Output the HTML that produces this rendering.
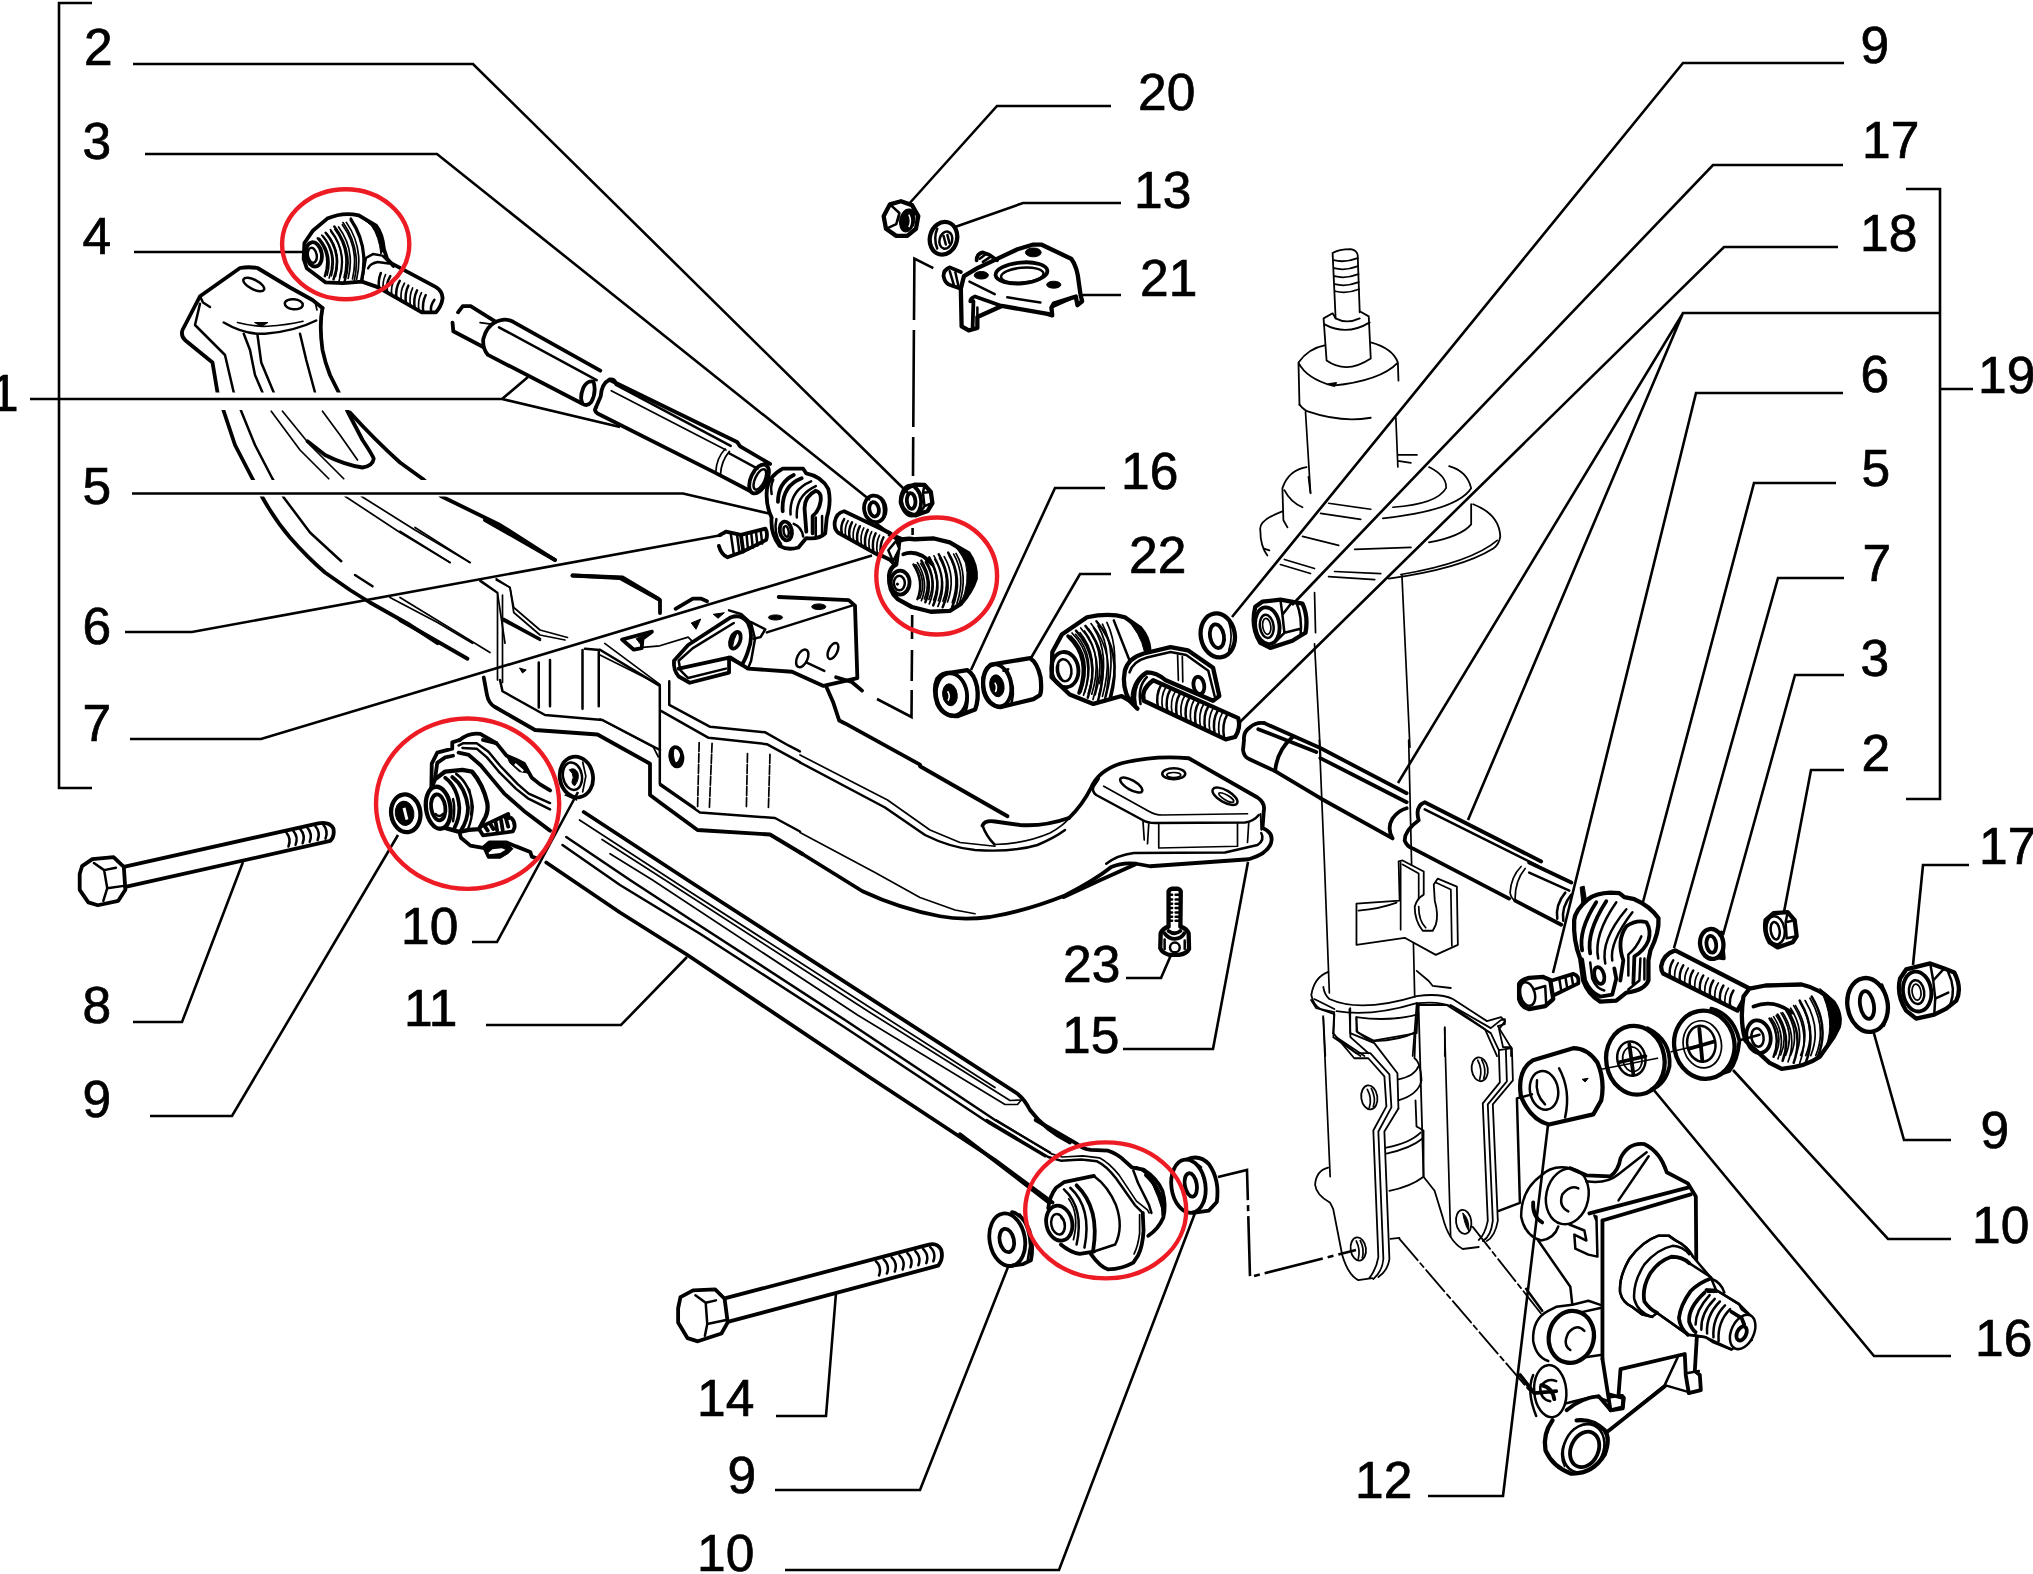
<!DOCTYPE html>
<html><head><meta charset="utf-8"><title>Rear suspension diagram</title>
<style>
html,body{margin:0;padding:0;background:#fff;}
svg{display:block;}
text{font-family:"Liberation Sans",sans-serif;font-size:51.5px;fill:#000;stroke:#000;stroke-width:0.7;}
g.z path,g.z ellipse,g.z circle,g.z line,g.z polyline{vector-effect:non-scaling-stroke;}
.l{stroke:#000;stroke-width:2.6;fill:none;stroke-linejoin:miter;}
.p{stroke:#000;stroke-width:3.8;fill:none;stroke-linejoin:round;stroke-linecap:round;}
.m{stroke:#000;stroke-width:2.5;fill:none;stroke-linejoin:round;stroke-linecap:round;}
.t{stroke:#000;stroke-width:1.7;fill:none;stroke-linejoin:round;stroke-linecap:round;}
.k{fill:#000;stroke:#000;stroke-width:1;}
.s{stroke:#000;stroke-width:1.8;fill:none;stroke-linejoin:round;stroke-linecap:round;}
.w{fill:#fff;}
.r{stroke:#ed1c24;stroke-width:4.4;fill:none;}
.wf{fill:#fff !important;}
.p.wf{stroke-width:4.3;}
</style></head>
<body>
<svg width="2033" height="1574" viewBox="0 0 2033 1574">
<rect x="0" y="0" width="2033" height="1574" fill="#fff"/>
<!-- 05_dashes.svg -->
<g class="l" id="dashes">
<path d="M933.3 268.2L914.4 258.7L914 320M913.9 330L913.3 427M913.2 437L913 476M912.6 528V535M912.2 615L912 639M912 650L911.7 681M911.7 690L911.5 717L877 699"/>
<path d="M1218 1177L1247 1170L1250 1277L1356 1250" stroke-dasharray="60 5 6 5"/>
</g>

<!-- 10_xmember_a.svg -->
<g class="z" transform="translate(150 250) scale(.25)">
<!-- head outline -->
<path class="p" d="M690 232L650 200L560 150L430 72Q395 66 360 72L200 185L130 320Q122 345 142 362L250 450L270 570L295 645L340 780L410 915L450 990Q500 1080 560 1150Q630 1230 700 1290L800 1360L880 1410L1040 1500L1150 1573"/>
<path class="p" d="M690 232Q676 300 690 400Q700 450 720 500L755 570L790 645L850 760Q890 820 895 835Q890 865 850 870Q780 860 700 820L630 765"/>
<path class="p" d="M800 650Q900 760 1000 850L1090 915L1165 985L1400 1100L1620 1240"/>
<path class="m" d="M200 215L180 300L300 420L335 570L365 645L420 780L490 915L535 990L640 1130L765 1245"/>
<path class="m" d="M200 185L212 210L240 228"/>
<!-- smile -->
<path class="m" d="M295 290Q380 340 460 335Q580 325 665 282"/>
<path class="t" d="M350 290Q420 308 470 305Q550 300 612 285"/>
<path class="k" d="M418 290L472 290L445 306Z"/>
<ellipse class="m" cx="415" cy="138" rx="46" ry="19" transform="rotate(27 415 138)"/>
<ellipse class="m" cx="575" cy="217" rx="36" ry="20" transform="rotate(5 575 217)"/>
<path class="t" d="M662 215L668 240"/>
<!-- neck inner -->
<path class="m" d="M375 335L400 400L420 500L450 570"/>
<path class="m" d="M430 340L445 450L495 570"/>
<path class="m" d="M600 335L625 440L660 570"/>
<path class="t" d="M485 645L600 800L715 915"/>
<path class="t" d="M530 645L640 780L775 915"/>
<path class="t" d="M690 645L760 740L830 840"/>
<path class="t" d="M780 985L1000 1130L1200 1250"/>
<path class="t" d="M845 985L1060 1120L1280 1250"/>
<path class="m" d="M820 1300L890 1345"/>
<path class="t" d="M960 1390L1150 1490L1290 1573"/>
<!-- central box begin -->
<path class="p" d="M1690 1302L1890 1310L2033 1395"/>
<path class="t" d="M1320 1325L1390 1372L1420 1573M1385 1320L1440 1350L1455 1450L1560 1540L1660 1560"/>
<path class="m" d="M1410 1480L1560 1560"/>
</g>

<!-- 11_xmember_b.svg -->
<g class="z" transform="translate(400 520) scale(.25)">
<path class="p" d="M340 0L620 160"/>
<path class="t" d="M0 45L200 170M60 30L280 170"/>
<path class="p" d="M0 400L270 555"/>
<path class="t" d="M0 310L360 530"/>
<path class="p" d="M690 222L880 232L1040 320L1040 372"/>
<path class="t" d="M390 290L390 640M410 300L410 650M320 240L390 290M385 235L440 270L455 350L560 440L670 470"/>
<path class="m" d="M415 395L560 475"/>
<path class="p" d="M335 630L348 700Q355 735 380 748L540 840L790 858L1000 975L1000 1100L1040 1130L1190 1240L1480 1258L1610 1336"/>
<path class="m" d="M400 640L410 685L580 780L810 800L1040 920"/>
<path class="m" d="M555 570L555 750M600 560L600 745M730 520L730 755M795 520L795 745M740 515L800 520"/>
<path class="k" d="M478 592L505 600L490 612Z"/>
<path class="t" d="M800 540L1040 660"/>
<path class="m" d="M1040 1060L1200 1170L1500 1192L1600 1246"/>
</g>

<!-- 12_xmember_c.svg -->
<g class="z" transform="translate(600 560) scale(.1574)">
<!-- plate -->
<path class="p" d="M1135 235L1580 255L1620 290L1635 750L1420 800L1220 710L940 690L830 620"/>
<path class="m" d="M1060 460L1600 290M960 395L1050 440L1020 490L975 500"/>
<path class="p" d="M1440 810L1480 900L1520 1020L1560 1040L2033 1300"/>
<path class="p" d="M1500 745L1600 775L1665 830"/>
<!-- lever -->
<path class="p" d="M500 690L820 620L820 715L570 780L500 740Q465 700 470 640L560 540L830 365Q900 340 940 400Q980 480 940 580Q920 640 900 665L820 620"/>
<path class="m" d="M500 640L510 700L560 750L800 690M500 640L590 560L850 400"/>
<path class="m" d="M820 320L900 345L960 400L985 500L960 640L940 690"/>
<ellipse class="p" cx="860" cy="510" rx="30" ry="55" transform="rotate(20 860 510)"/>
<path class="k" d="M835 470Q820 520 840 560Q850 500 870 465Z"/>
<!-- triangle hole -->
<path class="p" d="M140 505L330 455L270 500L265 560L215 570Z"/>
<path class="k" d="M230 500L330 455L270 500L265 545Z"/>
<path class="t" d="M270 555L380 545L560 490L590 520"/>
<ellipse class="k" cx="1115" cy="365" rx="45" ry="16"/>
<ellipse class="k" cx="1390" cy="297" rx="45" ry="18"/>
<path class="k" d="M580 400L640 375L610 440ZM720 345L790 335L750 370Z"/>
<ellipse class="m" cx="1285" cy="625" rx="33" ry="60" transform="rotate(25 1285 625)"/>
<ellipse class="m" cx="1480" cy="578" rx="28" ry="55" transform="rotate(25 1480 578)"/>
<path class="m" d="M1310 650L1425 705"/>
<path class="p" d="M480 310L590 245L640 245L680 262"/>
<!-- lower-left -->
<path class="t" d="M30 530L380 790"/>
<path class="m" d="M0 570L380 800L380 1420L600 1574"/>
<path class="m" d="M440 770L440 920L700 1060L1050 1095L1200 1180L1270 1216"/>
<path class="m" d="M390 960L690 1130L1060 1170L1270 1284"/>
<path class="t" d="M0 1010L340 1190L370 1250"/>
<ellipse class="p" cx="485" cy="1250" rx="38" ry="62" transform="rotate(-8 485 1250)"/>
<path class="k" d="M450 1200Q440 1260 470 1310Q520 1300 515 1230Q500 1290 480 1290Q460 1250 470 1195Z"/>
<path class="t" stroke-dasharray="9 2" d="M630 1160L620 1574M712 1165L695 1574M937 1230L930 1574M1080 1235L1070 1574"/>
</g>

<!-- 13_xmember_d.svg -->
<g class="z" transform="translate(800 680) scale(.25)">
<path class="p" d="M480 345L830 545"/>
<!-- pocket -->
<path class="p" d="M730 582Q740 560 780 566L880 580Q980 586 1075 552"/>
<path class="m" d="M730 582Q745 625 778 658"/>
<path class="t" d="M778 658Q900 655 1000 612Q1050 585 1078 552"/>
<!-- neck up to head -->
<path class="p" d="M1075 553Q1130 500 1165 430Q1195 360 1290 332Q1420 300 1555 313L1830 470Q1862 492 1855 525L1850 592Q1898 612 1883 655Q1868 695 1795 717L1400 745L1345 735Q1290 728 1245 748Q1180 800 1060 862Q900 925 760 948Q650 962 560 945Q400 915 250 845L0 690"/>
<path class="m" d="M1195 395L1175 425Q1165 445 1185 460L1370 560Q1390 572 1420 572L1780 570Q1815 565 1835 540"/>
<path class="t" d="M1215 425L1395 525Q1420 540 1450 540L1790 535"/>
<path class="t" d="M1372 565L1377 640M1395 575L1390 655M1435 575L1435 672L1750 665L1750 570M1795 570L1790 650M1842 535L1845 600"/>
<path class="m" d="M1845 612Q1860 640 1830 660L1700 690L1335 692Q1270 700 1225 735"/>
<path class="p" d="M1055 868Q1200 800 1340 738"/>
<ellipse class="m" cx="1325" cy="420" rx="50" ry="19" transform="rotate(30 1325 420)"/>
<ellipse class="m" cx="1495" cy="375" rx="46" ry="22"/>
<ellipse class="t" cx="1495" cy="380" rx="28" ry="10"/>
<ellipse class="m" cx="1700" cy="465" rx="56" ry="24" transform="rotate(30 1700 465)"/>
<ellipse class="t" cx="1705" cy="470" rx="34" ry="10" transform="rotate(30 1705 470)"/>
<!-- left lines -->
<path class="t" d="M0 300L350 480L520 600L640 650L780 665"/>
<path class="m" d="M0 330L340 510L500 620Q600 670 700 680Q850 690 950 660Q1020 630 1060 600"/>
<path class="t" d="M0 610L300 770L480 870L620 920L700 935"/>
</g>

<!-- 20_arm_e.svg -->
<g class="z" transform="translate(370 710) scale(.15755)">
<!-- nut 10 right -->
<ellipse class="p" cx="1310" cy="425" rx="105" ry="130" transform="rotate(-10 1310 425)"/>
<ellipse class="m" cx="1285" cy="420" rx="60" ry="88" transform="rotate(-10 1285 420)"/>
<path class="k" d="M1265 380Q1300 360 1320 400Q1330 440 1300 480Q1270 470 1290 430Q1290 400 1265 380Z"/>
<path class="t" d="M1350 330L1370 420L1350 520M1240 540L1310 570"/>
<path class="p" d="M567 192Q630 140 700 152L802 211"/>
</g>
<g class="z" transform="translate(390 740) scale(.0788)">
<!-- washer 9 left -->
<ellipse class="p wf" cx="200" cy="930" rx="185" ry="240" transform="rotate(-8 200 930)"/>
<ellipse class="k" cx="185" cy="930" rx="118" ry="155" transform="rotate(-8 185 930)"/>
<path d="M178 860L215 1010" stroke="#fff" stroke-width="3" fill="none"/>
<!-- eye housing -->
<path class="p" d="M525 580L530 300L600 160L790 110L790 30L880 0M1180 0L1350 40L1480 200L1600 250L1700 300L1800 480L1900 560L2031 640"/>
<path class="m" d="M870 70L930 40L1100 40L1250 150L1400 330L1620 560L1760 680L2031 800"/>
<path class="m" d="M920 100L1100 110L1230 220L1380 400L1600 620L1750 740L2031 880"/>
<path class="p" d="M870 160L1000 190L1150 320L1300 500L1450 680L1700 900L2031 1150"/>
<path class="p" d="M800 200L700 220L600 290L570 500"/>
<path class="k" d="M1480 200L1600 250L1700 300L1750 420L1640 400L1520 290Z"/>
<path d="M1585 305L1690 395" stroke="#fff" stroke-width="2.4" fill="none"/>
<!-- bushing body -->
<path class="p wf" d="M570 500L700 400L920 380L1040 400Q1180 560 1235 800Q1250 900 1210 980L1130 1130L1000 1140L880 1165L640 1100L470 900Q450 760 570 500Z"/>
<ellipse class="p wf" cx="612" cy="860" rx="155" ry="268" transform="rotate(-8 612 860)"/>
<ellipse class="p" cx="612" cy="855" rx="90" ry="165" transform="rotate(-8 612 855)"/>
<path class="m" d="M580 940Q620 990 670 940"/>
<path class="p" d="M700 480Q860 600 880 860Q880 1000 820 1110M790 470Q960 600 990 860Q990 1010 900 1150"/>
<path class="m" d="M840 430Q1020 560 1050 850Q1040 1010 990 1130M1005 630Q1050 800 1030 950M800 750Q830 860 800 1030"/>
<!-- stub bolt -->
<path class="p" d="M1180 1090L1500 940L1510 990M1540 990Q1590 1040 1580 1110L1560 1160L1180 1210L1130 1130"/>
<path class="p" d="M1200 1090L1240 1150M1270 1060L1310 1130M1340 1040L1360 1150M1410 1020L1430 1140M1470 990L1500 1100"/>
<!-- lower edge -->
<path class="p" d="M880 1165L900 1240L1020 1340L1180 1370L1260 1300L1480 1300L1600 1350L1780 1420L1800 1480L1860 1500"/>
<path class="k" d="M1180 1370L1260 1300L1480 1300L1560 1380L1500 1440L1400 1500L1240 1500Z"/>
<path d="M1250 1430L1300 1385L1420 1375L1465 1392L1400 1435L1260 1450Z" fill="#fff"/>
</g>

<!-- 21_arm_f.svg -->
<g class="z" transform="translate(620 880) scale(.25)">
<path class="p" d="M-145 -272L270 0L1590 855Q1620 880 1640 920Q1700 1000 1800 1050"/>
<path class="t" d="M-162 -240L250 28L1000 510L1500 830"/>
<path class="t" d="M-72 -162L180 0L1000 530L1560 882L1600 880"/>
<path class="t" d="M-40 -105L130 0L950 540L1540 898L1590 898L1612 872"/>
<path class="m" d="M-215 -172L40 0L300 170L900 560L1500 960L1720 1090"/>
<path class="m" d="M-230 -140L0 20L320 215L900 590L1480 975L1700 1105"/>
<path class="p" d="M-295 -70L0 130L270 300L1000 790L1500 1120L1730 1290"/>
</g>

<!-- 22_arm_h.svg -->
<g class="z" transform="translate(960 1120) scale(.15755)">
<!-- washer 9 -->
<ellipse class="p" cx="300" cy="760" rx="112" ry="168" transform="rotate(-10 300 760)"/>
<path class="p" d="M330 585Q400 600 440 700Q470 800 450 890L400 915L330 925"/>
<path class="m" d="M380 600Q440 680 445 800L430 890"/>
<ellipse class="p" cx="297" cy="765" rx="45" ry="75" transform="rotate(-12 297 765)"/>
<!-- washer 10 -->
<ellipse class="p" cx="1450" cy="420" rx="108" ry="170" transform="rotate(-8 1450 420)"/>
<path class="p" d="M1440 250Q1520 215 1580 280Q1650 380 1630 520L1580 575L1480 590"/>
<ellipse class="p" cx="1465" cy="412" rx="38" ry="75" transform="rotate(-10 1465 412)"/>
<path class="m" d="M1490 270L1530 300M1540 350Q1575 430 1550 520"/>
<!-- arm eye -->
<path class="p" d="M480 0L740 150Q780 185 830 190L940 195Q1000 215 1040 255L1090 300L1165 315Q1250 370 1285 450Q1310 540 1290 620Q1260 690 1195 735"/>
<path class="m" d="M170 0L560 235L640 258L770 250L870 262Q930 290 990 370L1110 540L1160 590"/>
<path class="t" d="M230 0L580 215L650 235L780 228L885 240Q950 275 1010 350L1120 515L1190 570L1200 590"/>
<path class="p" d="M0 90L560 520"/>
<path class="p" d="M1160 590L1165 700Q1160 800 1130 860L1100 905Q1030 945 940 948Q890 935 830 850"/>
<path class="t" d="M1140 600L1140 720Q1130 800 1105 850"/>
<path class="m" d="M1100 320L1130 400L1200 540L1215 590M1120 300Q1200 330 1240 420"/>
<path class="p" d="M1180 350Q1290 450 1290 600"/>
<path class="k" d="M1190 345Q1300 440 1295 620Q1270 500 1190 345Z"/>
<!-- bushing -->
<path class="p" d="M560 560Q570 480 610 430L660 395L850 355"/>
<path class="m" d="M850 355Q940 420 990 540Q1040 680 985 790L850 835"/>
<path class="p" d="M640 790Q700 840 760 850L850 835"/>
<ellipse class="p" cx="630" cy="655" rx="82" ry="112" transform="rotate(-12 630 655)"/>
<ellipse class="m" cx="622" cy="662" rx="42" ry="66" transform="rotate(-12 622 662)"/>
<path class="m" d="M660 440Q790 560 740 790M700 430Q840 560 790 810"/>
<path class="p" d="M740 415Q890 560 845 830"/>
<path class="t" d="M690 500Q760 600 720 760M640 620Q690 660 650 720"/>
</g>

<!-- 23_bolt14.svg -->
<g class="z" transform="translate(660 1220) scale(.15755)">
<path class="p" d="M130 490L210 447L350 440L410 500L430 650L390 720L240 770L175 750L115 650L115 560Z"/>
<path class="m" d="M225 478L290 525L355 510M290 525L300 660L420 635M300 660L285 735"/>
<path class="p" d="M410 498L1700 158Q1760 140 1785 190Q1800 250 1765 290L430 647"/>
<path class="m" d="M1370 262Q1410 300 1390 352M1420 250Q1460 290 1440 340M1470 237Q1510 275 1490 327M1520 224Q1560 262 1540 314M1570 210Q1610 250 1590 300M1620 197Q1660 237 1640 287M1670 184Q1710 224 1690 274M1715 172Q1755 210 1735 262"/>
</g>

<!-- 24_bolt8.svg -->
<g class="z" transform="translate(60 800) scale(.15755)">
<path class="p" d="M140 420L205 375L340 362L405 425L415 570L370 640L240 668L180 650L125 570L125 470Z"/>
<path class="m" d="M215 400L280 445L355 430M280 445L300 560L405 545M300 560L275 640"/>
<path class="p" d="M405 425L1640 148Q1710 135 1735 180Q1745 230 1715 260L415 552"/>
<path class="m" d="M1435 205Q1470 245 1450 295M1480 195Q1515 235 1495 285M1525 185Q1560 225 1540 275M1570 175Q1605 215 1585 265M1620 165Q1655 205 1635 255M1670 155Q1705 195 1685 245"/>
</g>

<!-- 30_tierod_j.svg -->
<g class="z" transform="translate(280 180) scale(.15755)">
<!-- ball joint 4 -->
<path class="p" d="M720 545L680 500L660 440Q650 340 610 290L500 225Q400 200 300 245L210 320L155 400L150 500L170 560L290 650L400 655L520 645L620 680"/>
<path class="k" d="M500 225L610 290Q650 340 660 440L640 470Q630 360 580 290Z"/>
<ellipse class="p" cx="215" cy="472" rx="50" ry="78" transform="rotate(-10 215 472)"/>
<ellipse class="m" cx="205" cy="478" rx="28" ry="48" transform="rotate(-10 205 478)"/>
<path class="m" d="M240 370Q330 470 285 610M290 335Q400 470 340 630M345 295Q470 460 410 645"/>
<path class="t" d="M265 350Q365 470 312 622M320 315Q435 465 375 640M400 270Q520 440 470 645"/>
<path class="m" d="M450 245Q570 420 520 640"/>
<path class="m" d="M545 495L590 470L650 480L690 520M545 495L520 645M560 560Q570 530 620 520L690 530"/>
<!--ribsJ--><path class="t" d="M250 370Q338 470 299 604M274 356Q366 464 326 608M298 342Q394 458 352 612M323 327Q422 453 379 616M348 312Q450 448 406 620M372 298Q478 442 433 624M396 284Q506 436 460 628M421 269Q534 431 486 632M446 254Q562 426 513 636"/>
<!-- stud -->
<path class="p" d="M690 520L990 680Q1030 705 1032 750Q1025 800 990 840L900 840L620 680"/>
<path class="m" d="M640 590Q620 640 630 690M700 610Q670 660 680 715M760 640Q730 690 740 750M815 670Q790 720 800 785M870 700Q845 750 855 815M925 730Q900 780 910 840M980 760Q950 800 960 840"/>
<path class="t" d="M670 600Q648 650 655 702M730 625Q700 675 710 732M790 655Q760 705 770 768M842 685Q818 735 828 800M898 715Q872 765 882 828"/>
<!-- tube 1 -->
<path class="p" d="M1130 840L1160 800L1210 800L1370 900L1400 890Q1440 880 1480 900L2033 1210"/>
<path class="p" d="M1095 905L1100 960L1290 1060"/>
<path class="p" d="M1370 900Q1310 930 1290 1010Q1285 1070 1320 1110L1920 1420Q1900 1380 1925 1320Q1950 1270 1990 1280Q2010 1350 1975 1410Q1950 1440 1920 1420"/>
<path class="m" d="M1390 935L2010 1270"/>
<path class="t" d="M1270 905L1340 915"/>
</g>

<!-- 31_tierod_k.svg -->
<g class="z" transform="translate(570 360) scale(.15755)">
<!-- second tube -->
<path class="p" d="M165 300L195 230Q200 150 250 125Q280 118 292 150"/>
<path class="p" d="M250 125L1060 520L1080 548L1270 660"/>
<path class="m" d="M292 158L1020 545"/>
<path class="t" d="M262 195L990 572"/>
<path class="p" d="M165 300Q150 322 175 340L920 715L1140 830"/>
<path class="t" d="M985 565Q930 620 925 712M1012 580Q960 640 955 727"/>
<path class="m" d="M1010 592L1190 690"/>
<ellipse class="p" cx="1200" cy="755" rx="52" ry="98" transform="rotate(25 1200 755)"/>
<ellipse class="m" cx="1205" cy="758" rx="30" ry="70" transform="rotate(25 1205 758)"/>
<!-- clamp 5 -->
<path class="p" d="M1250 820Q1260 740 1350 690L1480 690L1500 720Q1600 740 1640 820Q1660 900 1630 1000L1620 1100Q1580 1140 1500 1130L1450 1190Q1380 1210 1330 1180Q1270 1100 1280 1000Q1240 920 1250 820Z"/>
<path class="p" d="M1320 900Q1320 780 1420 730M1350 960Q1340 800 1470 750"/>
<path class="m" d="M1400 980Q1390 830 1530 770M1440 1000Q1430 860 1560 800"/>
<path class="p" d="M1500 1090L1490 960Q1480 870 1560 830Q1600 840 1590 900Q1580 960 1540 990L1540 1100"/>
<ellipse class="p" cx="1370" cy="1085" rx="38" ry="60" transform="rotate(-10 1370 1085)"/>
<ellipse class="m" cx="1372" cy="1088" rx="16" ry="34" transform="rotate(-10 1372 1088)"/>
<path class="m" d="M1310 1010Q1290 1100 1340 1170M1420 1040Q1470 1060 1480 1120M1560 1000L1560 1120M1600 990L1600 1110"/>
<path class="m" d="M1290 760Q1270 800 1280 850"/>
<!-- bolt 6 -->
<path class="p" d="M945 1180Q960 1235 1000 1252L1100 1215L1085 1110L990 1090L950 1112"/>
<path class="m" d="M1020 1100L1040 1235M1060 1105L1075 1222"/>
<path class="p" d="M1085 1110L1240 1070Q1258 1100 1245 1142L1100 1215"/>
<path class="m" d="M1120 1100L1130 1205M1150 1092L1160 1192M1180 1085L1190 1178M1210 1078L1220 1165"/>
<!-- washer 3 -->
<ellipse class="p" cx="1935" cy="945" rx="68" ry="85" transform="rotate(-10 1935 945)"/>
<ellipse class="p" cx="1930" cy="948" rx="30" ry="46" transform="rotate(-10 1930 948)"/>
<path class="m" d="M1975 880Q2005 940 1985 1010"/>
<!-- stud 7 -->
<path class="p" d="M2033 1100L1740 960Q1690 970 1680 1030Q1675 1070 1700 1095L1960 1240"/>
<path class="m" d="M1740 1010Q1715 1050 1725 1100M1790 1030Q1765 1075 1775 1130M1840 1055Q1815 1100 1825 1158M1890 1078Q1865 1125 1875 1185M1940 1100Q1915 1150 1925 1212M1990 1125Q1965 1170 1972 1235"/>
<path class="t" d="M1765 1020Q1740 1062 1750 1115M1815 1042Q1790 1088 1800 1145M1865 1066Q1840 1112 1850 1172M1915 1090Q1890 1138 1900 1198M1965 1112Q1940 1160 1950 1225"/>
</g>

<!-- 32_tierod_l.svg -->
<g class="z" transform="translate(830 440) scale(.15755)">
<!-- nut 2 -->
<path class="p wf" d="M540 283L600 285L640 330L650 400L620 450L545 478Q470 470 450 400Q445 310 540 283Z"/>
<ellipse class="p" cx="515" cy="385" rx="63" ry="95" transform="rotate(-5 515 385)"/>
<ellipse class="p" cx="515" cy="387" rx="27" ry="50" transform="rotate(-5 515 387)"/>
<path class="m" d="M600 285L590 335L640 330M590 335L600 420L650 400M600 420L565 470"/>
<!-- stud extension -->
<path class="p" d="M378 602L450 640M300 540Q400 620 500 640M310 725L380 760L420 800"/>
<!-- ball joint 7 -->
<path class="p wf" d="M440 640Q480 620 540 630L660 625L760 650L880 720Q930 790 925 880Q900 960 830 1040L760 1085L640 1090L520 1060L430 1010Q370 960 375 860Q380 810 420 790Z"/>
<path class="k" d="M760 650L880 720Q930 790 925 880Q900 960 830 1040Q890 900 860 780Q820 690 760 650Z"/>
<path class="m wf" d="M420 640L370 700L400 770L440 690Z"/>
<ellipse class="p" cx="445" cy="905" rx="60" ry="76"/>
<ellipse class="m" cx="440" cy="908" rx="35" ry="46"/>
<circle class="k" cx="428" cy="915" r="7"/>
<path class="p" d="M465 725Q560 690 650 790"/>
<path class="m" d="M530 790Q600 900 555 1010M580 765Q660 900 605 1030M630 745Q720 900 655 1050M690 725Q790 900 715 1062M750 715Q850 880 775 1062"/>
<path class="t" d="M555 778Q630 900 580 1020M605 755Q690 900 630 1040M660 735Q755 900 685 1056M800 720Q880 860 820 1040"/>
<!--ribsL--><path class="t" d="M545 792Q616 896 570 1004M575 783Q647 892 599 1008M605 774Q678 888 628 1012M635 766Q709 884 658 1016M665 758Q740 880 688 1020M695 749Q771 876 717 1024M725 740Q802 872 746 1028M755 732Q833 868 776 1032M785 724Q864 864 806 1036"/>
</g>

<!-- 33_mid_m.svg -->
<g class="z" transform="translate(920 570) scale(.15755)">
<!-- bush 16 -->
<path class="p wf" d="M200 652L300 635Q345 660 362 740Q375 820 350 885L240 927Q150 935 110 850Q80 760 110 690Q140 650 200 652Z"/>
<ellipse class="p" cx="200" cy="790" rx="98" ry="135" transform="rotate(-8 200 790)"/>
<ellipse class="k" cx="190" cy="792" rx="46" ry="70" transform="rotate(-8 190 792)"/>
<path d="M175 770Q195 800 178 830" stroke="#fff" stroke-width="1.6" fill="none"/>
<path class="m" d="M255 685Q325 780 290 900"/>
<!-- sleeve 22 -->
<path class="p wf" d="M450 600L700 560Q745 590 765 680Q775 770 760 795L720 820L510 870Q430 860 405 770Q385 650 450 600Z"/>
<ellipse class="p" cx="490" cy="733" rx="88" ry="135" transform="rotate(-10 490 733)"/>
<ellipse class="k" cx="488" cy="735" rx="45" ry="70" transform="rotate(-10 488 735)"/>
<path d="M475 715Q495 745 478 775" stroke="#fff" stroke-width="1.6" fill="none"/>
<path class="m" d="M555 640Q610 740 580 850M530 640L560 630"/>
<!-- ball joint 18 -->
<path class="p wf" d="M840 520L900 410L1060 300Q1200 270 1300 300L1400 370Q1450 430 1455 500L1330 830L1280 800L1100 850L950 790L835 680Z"/>
<path class="k" d="M1300 300L1400 370Q1450 430 1455 500L1425 520Q1400 400 1300 300Z"/>
<ellipse class="p" cx="920" cy="632" rx="85" ry="112" transform="rotate(-8 920 632)"/>
<ellipse class="m" cx="915" cy="636" rx="46" ry="70" transform="rotate(-8 915 636)"/>
<path class="t" d="M880 600Q870 650 900 690"/>
<path class="p" d="M940 420Q1090 560 1010 780"/>
<path class="m" d="M990 385Q1150 560 1065 810M1050 355Q1215 545 1130 830M1120 325Q1290 520 1210 820"/>
<path class="t" d="M965 400Q1120 560 1038 795M1020 368Q1182 552 1098 822M1085 340Q1250 532 1170 828M1130 480Q1170 600 1140 720"/>
<path class="m" d="M1230 320L1340 600"/>
<!--ribsM--><path class="t" d="M958 419Q1098 556 1022 774M987 408Q1120 552 1045 779M1016 398Q1142 548 1068 784M1044 387Q1165 544 1090 788M1072 376Q1188 540 1112 792M1101 365Q1210 536 1135 797M1130 354Q1232 532 1158 802M1158 344Q1255 528 1180 806M1186 333Q1278 524 1202 810"/>
<!-- bracket -->
<path class="p wf" d="M1300 640Q1320 560 1420 530L1590 490L1700 510L1860 620L1900 800L1860 830L1560 700Q1500 650 1440 650Q1360 700 1350 800Q1340 850 1380 880L1330 830Q1280 740 1300 640Z"/>
<path class="m" d="M1330 650Q1350 580 1440 555L1590 520L1690 540L1830 640L1870 800"/>
<path class="t" d="M1635 540L1640 700M1665 550L1668 710"/>
<ellipse class="p" cx="1770" cy="732" rx="34" ry="55" transform="rotate(-10 1770 732)"/>
<!-- stud 18 -->
<path class="p wf" d="M1480 700L2020 940Q2038 1000 2000 1060L1940 1075L1420 830Q1400 760 1480 700Z"/>
<path class="m" d="M1440 680Q1380 740 1400 850M1400 690Q1350 760 1370 860"/>
<path class="m" d="M1530 730Q1495 790 1510 870M1590 758Q1555 815 1570 898M1650 785Q1615 842 1630 926M1710 812Q1675 870 1690 954M1770 838Q1735 896 1750 982M1830 865Q1795 922 1810 1010M1890 892Q1855 950 1870 1038M1950 918Q1915 975 1930 1065"/>
<path class="t" d="M1560 744Q1525 802 1540 884M1620 772Q1585 828 1600 912M1680 798Q1645 856 1660 940M1740 825Q1705 883 1720 968M1800 852Q1765 910 1780 996M1860 878Q1825 936 1840 1024M1920 905Q1885 962 1900 1052"/>
<!-- washer 9 -->
<ellipse class="p wf" cx="1890" cy="415" rx="108" ry="140" transform="rotate(-10 1890 415)"/>
<ellipse class="p" cx="1885" cy="420" rx="44" ry="76" transform="rotate(-10 1885 420)"/>
<path class="t" d="M1960 330Q1990 420 1960 510"/>
</g>

<!-- 40_strut_n.svg -->
<g class="z" transform="translate(1180 230) scale(.2008)">
<path class="s" d="M760 115Q790 95 850 95Q880 100 885 125L895 410M760 115L775 440Q830 470 895 440"/>
<path class="s" d="M765 150Q820 165 885 140M767 190Q822 205 887 180M769 230Q824 245 889 220M771 270Q826 285 890 260M773 305Q828 320 891 295"/>
<path class="s" d="M775 440L760 415L715 440L730 650Q830 720 950 640L940 430L895 405M720 470Q830 530 945 460"/>
<path class="s" d="M720 575Q640 590 590 660Q630 740 760 775Q1000 750 1085 660Q1060 590 950 560M590 660L595 870M1085 660L1088 750"/>
<path class="s" d="M595 870Q620 900 640 905Q800 960 950 935"/>
<path class="t" d="M625 905L650 1310M1075 935L1085 1180M1085 1120L1180 1120M1085 1150L1150 1160"/>
<path class="k" d="M740 765L780 760L770 780Z"/>
<path class="s" d="M640 1230L650 1310"/>
</g>
<g class="z" transform="translate(1180 440) scale(.2008)">
<path class="s" d="M630 135Q540 150 510 240L515 400L535 435M520 250Q550 310 610 335"/>
<path class="t" d="M1240 135Q1330 180 1325 240Q1280 320 1060 335M1340 130Q1430 155 1450 240Q1380 350 1010 390M740 315L950 345M700 365L900 395"/>
<path class="s" d="M510 355Q390 400 400 450Q400 530 435 575M415 540L445 550"/>
<path class="s" d="M1460 320Q1590 370 1595 480Q1590 520 1560 540Q1400 640 1040 690M1450 320L1450 420Q1400 480 1240 510"/>
<path class="t" d="M1580 500Q1450 610 1100 670M610 480L790 525M870 545L1150 535M520 595L670 640M500 620L650 665M770 655L1000 665M740 680L970 695"/>
<path class="t" d="M670 760L675 960M670 1015L700 1574M1105 670L1145 1530"/>
<!-- nut 17 -->
<path class="p wf" d="M375 830L410 805L500 795L610 815Q640 880 625 960L600 975L560 1000L450 1035L400 1010Q350 930 375 830Z"/>
<ellipse class="p" cx="435" cy="925" rx="60" ry="92" transform="rotate(-8 435 925)"/>
<ellipse class="m" cx="432" cy="928" rx="34" ry="58" transform="rotate(-8 432 928)"/>
<ellipse class="t" cx="432" cy="928" rx="20" ry="40" transform="rotate(-8 432 928)"/>
<path class="m" d="M500 795L510 870L560 805M510 870L520 960L600 940M520 960L470 1010M580 810Q610 880 600 975"/>
</g>

<!-- 41_strut_p.svg -->
<g class="z" transform="translate(1240 740) scale(.2008)">
<!-- strut tube lines -->
<path class="t" d="M395 0L420 600L445 1260M840 0L870 1280"/>
<path class="t" d="M415 1380L425 1574M880 1310L860 1574"/>
<!-- tie rod tube 19, first section -->
<path class="p" d="M121 -84Q80 -90 51 -64Q15 -40 20 0L15 50Q20 85 45 95L175 155L400 290L760 490Q730 440 760 390Q790 350 830 340"/>
<path class="p" d="M261 -14Q185 50 175 155"/>
<path class="p" d="M91 -54L380 60M121 -84L400 40L830 265M400 90L830 310"/>
<!-- second section -->
<path class="p" d="M1340 790L860 540Q830 530 820 500Q820 450 890 400Q870 330 920 310L1500 605"/>
<path class="m" d="M920 345L1480 625"/>
<path class="t" d="M1400 630Q1350 680 1345 760Q1350 790 1370 800M1420 640Q1370 700 1370 790"/>
<path class="p" d="M1440 610L1650 710M1370 800L1600 920"/>
<path class="m" d="M1440 660L1640 750M1620 760Q1570 820 1580 890M1650 770Q1600 830 1610 900"/>
<!-- clip bracket -->
<path class="s wf" d="M580 815L580 1020L820 985L975 1070L1085 1020L1080 730L985 690L965 720L970 800Q990 870 975 920L960 950L910 950Q870 900 870 830Q880 790 915 770L915 655L810 600L790 605L795 800Z"/>
<path class="t" d="M590 850Q700 840 780 810M800 610L800 945M810 620L890 665L890 790M975 710L1050 745L1055 1025M890 830Q890 900 925 935"/>
<!-- lower clamp -->
<path class="s" d="M440 1155Q370 1180 355 1270Q365 1320 400 1340L470 1365L465 1480L600 1574"/>
<path class="s" d="M415 1230Q420 1270 445 1290Q600 1360 880 1275Q1000 1260 1060 1290L1230 1400L1300 1380L1320 1400L1290 1440L1310 1530L1350 1530L1350 1574"/>
<path class="s" d="M880 1150L940 1200L960 1225L1050 1235"/>
<path class="s" d="M890 1310Q1000 1300 1060 1330L1220 1440L1280 1574M480 1350Q650 1380 880 1310"/>
<path class="s" d="M545 1340L550 1480L640 1560M580 1380L580 1450L650 1500L880 1460L885 1310"/>
<path class="t" d="M1020 1430L1020 1574M370 1290L470 1340M480 1480L620 1574"/>
<!-- bolt 6 right -->
<path class="p wf" d="M1390 1215Q1400 1195 1440 1185L1510 1180L1545 1195L1560 1290L1520 1325L1440 1340Q1400 1330 1390 1290Z"/>
<ellipse class="m" cx="1432" cy="1265" rx="36" ry="60" transform="rotate(-15 1432 1265)"/>
<path class="m" d="M1470 1240L1520 1225L1525 1320"/>
<path class="p" d="M1545 1200L1660 1165Q1692 1175 1685 1212L1560 1272"/>
<path class="m" d="M1590 1188L1600 1250M1620 1178L1630 1238M1650 1170L1660 1225"/>
</g>

<!-- 42_strut_q.svg -->
<g class="z" transform="translate(1290 1000) scale(.2008)">
<!-- left plate -->
<path class="t" d="M165 80L200 880"/>
<path class="s" d="M190 835Q130 850 125 920Q130 970 200 1010L215 1040L260 1270Q290 1370 340 1395L410 1385"/>
<path class="s" d="M215 165L320 290L390 290L470 380L480 530L415 650L440 1280Q430 1340 395 1385"/>
<path class="s" d="M235 190L330 265L400 265L495 370L505 535L440 655L465 1290Q460 1350 415 1390"/>
<path class="s" d="M540 540L470 655L495 1290Q485 1350 440 1380"/>
<ellipse class="s" cx="395" cy="485" rx="40" ry="60" transform="rotate(-8 395 485)"/>
<path class="t" d="M385 445Q410 490 395 535M405 440Q430 490 415 530"/>
<ellipse class="s" cx="340" cy="1240" rx="38" ry="58" transform="rotate(-8 340 1240)"/>
<path class="t" d="M330 1200Q352 1245 340 1290M350 1198Q372 1240 360 1285"/>
<path class="s" d="M105 0L130 40L220 60L215 165M300 40L300 165L420 215L535 365L540 540"/>
<path class="s" d="M330 85L335 160L420 205Q550 200 625 160L640 30M330 85Q500 110 640 70"/>
<!-- tube -->
<path class="s" d="M625 160L620 290Q650 310 655 400Q640 470 540 500M540 395Q620 380 640 330M625 500L630 630L665 650L665 880Q600 930 495 950"/>
<path class="s" d="M480 735Q600 710 650 660M480 765Q600 740 660 690"/>
<!-- right plate -->
<path class="s" d="M640 25L780 25L1000 165L1040 250L1105 240L1110 400L1010 520L1035 1100Q1020 1180 980 1200"/>
<path class="s" d="M1040 250L1045 410L960 515L985 1100Q970 1170 940 1195M1075 245L1080 405L985 520L1010 1100Q1000 1180 960 1200"/>
<path class="s" d="M800 25L1000 140L1050 100L1070 95L1070 120L1035 130L1100 235"/>
<path class="s" d="M640 25L665 880L720 950L760 1080Q790 1200 860 1240L940 1230"/>
<path class="t" d="M770 140L800 1180"/>
<ellipse class="s" cx="945" cy="345" rx="40" ry="60" transform="rotate(-8 945 345)"/>
<path class="t" d="M935 300Q960 345 945 395M955 298Q980 345 965 390"/>
<ellipse class="s" cx="865" cy="1105" rx="38" ry="60" transform="rotate(-8 865 1105)"/>
<path class="k" d="M860 1060Q895 1090 890 1150Q870 1120 860 1060Z"/>
<path class="s" d="M500 1190L545 1185" />
<path class="s" stroke-dasharray="28 4 5 4" d="M545 1190L1190 1942M910 1130L1260 1574"/>
<!-- sleeve 12 -->
<path class="p wf" d="M1150 480Q1130 350 1210 300L1410 240Q1480 240 1530 310Q1570 400 1550 500L1510 570L1290 620Q1200 600 1150 480Z"/>
<ellipse class="m" cx="1265" cy="450" rx="70" ry="97" transform="rotate(-10 1265 450)"/>
<path class="m" d="M1230 400Q1220 470 1270 520M1340 340Q1400 450 1370 585"/>
<path class="k" d="M1455 395L1485 390L1470 408Z"/>
<path class="m" d="M1205 470L1130 490L1145 1010L1040 1050"/>
<!-- bush 16 right -->
<ellipse class="p wf" cx="1720" cy="300" rx="145" ry="172" transform="rotate(-10 1720 300)"/>
<path class="p" d="M1780 140Q1900 200 1890 330Q1870 420 1800 445"/>
<ellipse class="m" cx="1700" cy="292" rx="70" ry="86" transform="rotate(-10 1700 292)"/>
<ellipse class="t" cx="1705" cy="295" rx="48" ry="62" transform="rotate(-10 1705 295)"/>
<path class="p" d="M1690 220L1710 370M1640 310L1770 280"/>
<path class="t" d="M1550 345L1830 290"/>
</g>

<!-- 43_knuckle_r.svg -->
<g class="z" transform="translate(1490 1100) scale(.2008)">
<!-- upper lug -->
<path class="m" d="M250 380Q155 450 155 580Q175 680 255 700Q320 690 340 630M250 380Q310 320 400 340"/>
<path class="p" d="M215 510Q210 580 260 610"/>
<ellipse class="m wf" cx="385" cy="480" rx="105" ry="140" transform="rotate(12 385 480)"/>
<path class="m" d="M440 440Q400 420 360 470Q340 530 390 555"/>
<!-- arm to top -->
<path class="p" d="M400 340L480 375L600 380Q640 350 650 290Q690 210 770 220Q850 260 880 360L985 415L1025 480L1030 1180"/>
<path class="m" d="M480 405Q580 420 640 370L780 260M640 500L790 280M770 220Q840 250 870 340"/>
<!-- box -->
<path class="p" d="M495 565L990 435M560 600L1000 470M560 600L560 1290"/>
<path class="m" d="M530 580L535 780L490 770L425 740L420 670L480 700L470 650L395 620M520 575L530 600"/>
<path class="m" d="M240 700L400 930L410 1020M180 940L260 1050"/>
<!-- middle lug -->
<path class="m" d="M290 1050Q210 1090 215 1200Q230 1280 290 1300M410 1020L330 1030L290 1050M410 1020L490 1000L550 1020M440 1060L555 1035M350 1300L550 1270"/>
<ellipse class="p wf" cx="405" cy="1180" rx="112" ry="130" transform="rotate(12 405 1180)"/>
<path class="m" d="M470 1150Q430 1110 390 1160Q360 1220 400 1245"/>
<!-- lower lug -->
<path class="m" d="M215 1370Q180 1450 230 1574"/>
<ellipse class="m wf" cx="300" cy="1450" rx="80" ry="130" transform="rotate(-5 300 1450)"/>
<path class="m" d="M330 1400Q280 1380 250 1430Q250 1490 300 1500"/>
<path class="p" d="M255 1420Q310 1430 320 1490M150 1370L220 1460L330 1450"/>
<!-- bottom box -->
<path class="p" d="M560 1290L590 1480L600 1545L660 1530L665 1480L640 1470L650 1340L970 1265L975 1370L990 1460L1050 1445L1045 1370L1020 1350L1030 1180"/>
<path class="m" d="M940 1270L870 1420L990 1455M870 1420L680 1574M380 1510L520 1475L590 1500M600 1480L660 1470M985 1360L1040 1350"/>
</g>
<g class="z" transform="translate(1560 1180) scale(.1279)">
<path class="m wf" d="M1040 600Q1000 520 900 470L850 435L770 435Q640 480 540 620Q460 760 470 880Q490 960 560 990L640 1050L720 1070L760 1040L1000 1210L1140 1230L1340 1325L1500 1250L1500 1070L1400 970L1220 860L1180 765Z" stroke="none"/>
<path class="m" d="M1040 600Q1000 520 900 470L850 435L770 435Q640 480 540 620Q460 760 470 880Q490 960 560 990L640 1050L720 1070"/>
<path class="m" d="M1010 580Q960 520 880 515Q760 540 660 660Q570 800 580 930Q610 1040 720 1070"/>
<path class="p" d="M1010 650Q960 600 870 600Q760 640 700 740Q640 850 660 950Q700 1010 760 1040"/>
<path class="m" d="M1010 650L1180 760M760 1040L930 1160L1000 1210L1060 1215"/>
<path class="p" d="M1180 770Q1090 800 1020 870Q940 980 930 1080Q940 1160 1000 1210"/>
<path class="m" d="M1180 770Q1260 800 1285 880"/>
<path class="m" d="M1140 860L1220 860L1400 970L1420 1010L1500 1070M1060 1215L1140 1230L1200 1270L1340 1325"/>
<path class="p" d="M1130 880Q1000 1000 1010 1110Q1030 1170 1060 1190"/>
<path class="m" d="M1170 900Q1060 1020 1060 1130M1210 930Q1100 1040 1105 1170M1250 950Q1140 1060 1150 1200M1290 980Q1190 1080 1200 1230M1330 1010Q1230 1110 1240 1260"/>
<ellipse class="m wf" cx="1428" cy="1188" rx="88" ry="142" transform="rotate(25 1428 1188)"/>
<ellipse class="p" cx="1420" cy="1200" rx="36" ry="58" transform="rotate(25 1420 1200)"/>
<path class="p" d="M1340 1030L1420 1080L1440 1130"/>
<path class="k" d="M1140 850L1220 855L1230 880L1150 880Z"/>
</g>

<!-- 44_knuckle_s.svg -->
<g class="z" transform="translate(1400 1330) scale(.2007)">
<path class="p" d="M830 400Q900 340 990 330L1050 400L1110 390L1115 340L1040 320"/>
<path class="p" d="M1030 510L1320 280"/>
<path class="p wf" d="M760 450Q710 520 725 600Q760 680 850 715Q960 720 1020 620Q1050 540 1020 500Q960 440 880 450"/>
<ellipse class="m" cx="915" cy="590" rx="98" ry="125" transform="rotate(25 915 590)"/>
<ellipse class="p" cx="920" cy="595" rx="68" ry="92" transform="rotate(25 920 595)"/>
<path class="t" d="M820 560Q790 620 820 680"/>
</g>

<!-- 45_right_t.svg -->
<g class="z" transform="translate(1625 860) scale(.2008)">
<!-- nut 2 -->
<path class="p wf" d="M700 300L740 265L810 260L845 300L855 380L835 410L760 435L720 410Q690 360 700 300Z"/>
<ellipse class="m" cx="750" cy="350" rx="45" ry="70" transform="rotate(-8 750 350)"/>
<ellipse class="m" cx="748" cy="352" rx="22" ry="44" transform="rotate(-8 748 352)"/>
<path class="m" d="M810 260L800 310L845 300M800 310L805 390L855 380"/>
<!-- washer 3 -->
<path class="p" d="M480 360L492 490L400 478"/>
<ellipse class="p wf" cx="432" cy="418" rx="58" ry="75" transform="rotate(-8 432 418)"/>
<ellipse class="p" cx="430" cy="420" rx="24" ry="42" transform="rotate(-8 430 420)"/>
<!-- stud 7 -->
<path class="p wf" d="M620 640L250 450Q190 470 180 530Q180 550 190 565L560 750Z"/>
<path class="m" d="M240 500Q215 540 225 585M290 525Q265 565 275 610M340 550Q315 590 325 635M390 575Q365 615 375 660M440 600Q415 640 425 685M490 625Q465 665 475 710M540 650Q515 690 525 735"/>
<path class="t" d="M265 512Q240 552 250 598M315 538Q290 578 300 622M365 562Q340 602 350 648M415 588Q390 628 400 672M465 612Q440 652 450 698M515 638Q490 678 500 722"/>
<!-- ball joint -->
<path class="p wf" d="M590 680L620 640L700 625L880 620Q970 640 1040 710Q1080 770 1065 830L1040 880L970 980Q900 1030 780 1040L720 1010L600 900Q570 800 590 680Z"/>
<path class="k" d="M970 640Q1060 700 1075 790L1045 880L1000 930Q1050 800 970 640Z"/>
<ellipse class="p" cx="665" cy="880" rx="60" ry="82" transform="rotate(-10 665 880)"/>
<ellipse class="m" cx="660" cy="884" rx="30" ry="46" transform="rotate(-10 660 884)"/>
<path class="p" d="M640 730Q740 690 830 760"/>
<path class="m" d="M720 790Q780 880 740 980M760 770Q830 880 785 1000M810 750Q890 870 840 1010M870 700Q960 850 900 1010M930 680Q1020 830 960 980"/>
<path class="t" d="M740 780Q805 880 762 990M785 760Q860 875 812 1005M840 725Q925 860 870 1012"/>
<path class="m" d="M580 895L670 870"/>
<!--ribsT--><path class="t" d="M729 788Q792 875 750 970M753 775Q819 870 775 971M777 762Q846 865 800 972M801 750Q873 860 825 972M825 738Q900 855 850 972M849 725Q927 850 875 973M873 712Q954 845 900 974M897 700Q981 840 925 974M921 688Q1008 835 950 974"/>
<!-- bush 10 -->
<path class="p" d="M430 740Q540 770 570 900Q560 1000 520 1050L400 1090"/>
<ellipse class="p wf" cx="395" cy="920" rx="150" ry="170" transform="rotate(-10 395 920)"/>
<ellipse class="m" cx="380" cy="915" rx="70" ry="90" transform="rotate(-10 380 915)"/>
<ellipse class="t" cx="385" cy="918" rx="95" ry="118" transform="rotate(-10 385 918)"/>
<path class="p" d="M370 840L385 1000M320 940L440 905"/>
<path class="t" d="M230 955L440 905"/>
<!-- washer 9 -->
<path class="m" d="M1280 620Q1325 720 1290 825"/>
<ellipse class="p wf" cx="1208" cy="722" rx="100" ry="135" transform="rotate(-10 1208 722)"/>
<ellipse class="p" cx="1205" cy="722" rx="34" ry="70" transform="rotate(-10 1205 722)"/>
<!-- nut 17 -->
<path class="p wf" d="M1370 590L1400 545L1520 515L1590 540L1640 560Q1680 640 1650 700L1600 740L1540 770L1450 790L1400 750Q1350 670 1370 590Z"/>
<ellipse class="p" cx="1455" cy="655" rx="70" ry="100" transform="rotate(-8 1455 655)"/>
<ellipse class="m" cx="1452" cy="658" rx="38" ry="60" transform="rotate(-8 1452 658)"/>
<ellipse class="t" cx="1452" cy="658" rx="22" ry="40" transform="rotate(-8 1452 658)"/>
<path class="m" d="M1520 515L1535 600L1590 540M1535 600L1545 690L1610 660M1545 690L1540 770M1610 560Q1650 640 1620 720"/>
</g>

<!-- 46_clamp_u.svg -->
<g class="z" transform="translate(1540 850) scale(.1004)">
<path class="p wf" d="M340 700Q350 600 480 490Q560 430 700 425L790 430L840 470L940 490Q1100 560 1180 680Q1190 820 1100 1000L1080 1100L1080 1300Q1040 1400 860 1420L760 1500L600 1510Q480 1440 430 1300L400 1080Q330 900 340 700Z"/>
<path class="p" d="M420 1000Q380 800 560 520M500 1030Q460 820 660 510"/>
<path class="m" d="M580 1080Q530 850 760 520M650 1130Q600 900 860 590M720 1100Q690 920 920 620"/>
<path class="p" d="M800 1300L830 1100Q760 900 860 760Q960 690 1060 720Q1110 800 1080 900Q1040 1000 940 1060L930 1330"/>
<path class="m" d="M880 1250L880 1040Q960 980 1010 860"/>
<path class="p" d="M420 1090L450 1300Q500 1420 600 1460L720 1440L760 1280L740 1180"/>
<ellipse class="p" cx="590" cy="1250" rx="48" ry="85" transform="rotate(-15 590 1250)"/>
<path class="m" d="M500 1120L520 1280Q560 1380 640 1400M1000 1080L990 1300L880 1390M1040 1080L1040 1290"/>
<path class="k" d="M400 370L440 360L460 480L420 560Z"/>
</g>

<!-- 50_top_v.svg -->
<g class="z" transform="translate(860 150) scale(.15755)">
<!-- nut 20 -->
<path class="p wf" d="M150 420L190 345L260 325L330 350L370 420L355 500L300 545L230 545L165 500Z"/>
<ellipse class="k" cx="300" cy="447" rx="48" ry="74" transform="rotate(12 300 447)"/>
<path d="M310 410Q330 450 310 490" stroke="#fff" stroke-width="1.5" fill="none"/>
<path class="m" d="M190 345L250 400L230 470L165 500M250 400Q245 440 230 470"/>
<!-- washer 13 -->
<ellipse class="p wf" cx="530" cy="560" rx="86" ry="105" transform="rotate(15 530 560)"/>
<ellipse class="m" cx="545" cy="572" rx="40" ry="55" transform="rotate(15 545 572)"/>
<path class="m" d="M490 500Q465 560 490 625M530 545L545 600M555 540L568 590"/>
<!-- bracket 21 -->
<path class="p wf" d="M660 800L745 750L1000 630L1100 600L1150 600L1340 690Q1380 740 1390 850L1400 920L1410 960L1380 985L1370 930L1230 975L1215 1000L1220 1050L1190 1040L900 990L745 1060L745 1130L690 1145L645 1120L640 880Z"/>
<ellipse class="p" cx="1025" cy="780" rx="165" ry="66" transform="rotate(-5 1025 780)"/>
<ellipse class="m" cx="1030" cy="795" rx="135" ry="48" transform="rotate(-5 1030 795)"/>
<ellipse class="k" cx="1100" cy="650" rx="50" ry="28"/>
<ellipse class="k" cx="770" cy="795" rx="45" ry="24"/>
<ellipse class="k" cx="1230" cy="855" rx="45" ry="22"/>
<path class="p" d="M640 880L580 860Q540 850 530 800Q530 760 570 745L640 775M740 700Q740 660 780 650L820 665L870 700"/>
<path class="m" d="M570 770L595 855M605 775L625 865M760 690L800 660M780 710L825 680"/>
<path class="p" d="M700 960Q700 940 730 930L900 990M720 960L715 1120"/>
<path class="m" d="M695 835L855 915M935 935L1145 968M1215 1000L1370 930M745 1000L745 1060"/>
</g>

<!-- 51_bolt23.svg -->
<g class="z" transform="translate(1100 860) scale(.0788)">
<path class="p wf" d="M870 900L870 400Q880 370 910 365L990 365Q1020 375 1025 400L1020 900"/>
<path class="m" d="M875 440L915 440M960 440L1020 440M875 500L915 500M960 500L1020 500M875 555L915 555M960 555L1020 555M875 610L915 610M960 610L1020 610M875 665L915 665M960 665L1020 665M875 720L915 720M960 720L1020 720M875 772L915 772M960 772L1020 772"/>
<path class="p wf" d="M870 845Q790 870 770 930L765 1120Q790 1180 880 1205L1000 1205Q1100 1190 1130 1130L1125 930Q1100 870 1020 845"/>
<path class="p" d="M820 930Q870 1000 950 1000Q1030 1000 1070 930M870 900Q950 960 1020 900"/>
<path class="m" d="M820 1010L820 1130M1075 1020L1075 1130"/>
<circle class="m" cx="950" cy="1110" r="62"/>
</g>


<!--BANDS-->
<rect x="180" y="392.5" width="320" height="17.5" fill="#fff"/>
<rect x="180" y="480" width="500" height="16.5" fill="#fff"/>
<!--LEADERS-->
<g class="l" id="leaders">
<path d="M92 3H59V788H92"/>
<path d="M133 64H473L908 493"/>
<path d="M145 154H437L870 500"/>
<path d="M134 252H305"/>
<path d="M30 399H502L528 377M502 399L620 427"/>
<path d="M132 493.5H683L769 513.5"/>
<path d="M125 632H192L722 535"/>
<path d="M130 739H261L872 555.5"/>
<path d="M133 1022H182L243 862"/>
<path d="M150 1116H232L398 835"/>
<path d="M472 942H497L578 792"/>
<path d="M486 1025H621L687 957"/>
<path d="M776 1416H826L836 1293"/>
<path d="M775 1490H920L1008 1267"/>
<path d="M785 1570H1059L1195 1213"/>
<path d="M1111 106H997L908 205"/>
<path d="M1121 203H1023L955 227"/>
<path d="M1121 295H1080"/>
<path d="M1105 488H1055L971 670"/>
<path d="M1111 574H1080L1031 658"/>
<path d="M1126 978H1161L1171 955"/>
<path d="M1123 1049H1213L1248 862"/>
<path d="M1844 63H1683L1232 617"/>
<path d="M1843 165H1713L1292 605"/>
<path d="M1838 247H1724L1240 722"/>
<path d="M1906 189H1940V799H1906M1940 389H1973"/>
<path d="M1940 313H1683L1398 783M1683 313L1468 820"/>
<path d="M1843 393H1696L1553 973"/>
<path d="M1836 483H1754L1643 902"/>
<path d="M1844 578H1778L1674 948"/>
<path d="M1844 675H1795L1723 935"/>
<path d="M1844 770H1811L1784 912"/>
<path d="M1969 865H1923L1913 965"/>
<path d="M1951 1140H1904L1873 1030"/>
<path d="M1951 1239H1888L1733 1070"/>
<path d="M1951 1356H1874L1653 1089"/>
<path d="M1428 1496H1503L1548 1125"/>
</g>
<!--RED-->
<g class="r" id="red">
<ellipse cx="345.7" cy="244.2" rx="63.6" ry="55"/>
<ellipse cx="936.7" cy="576" rx="60.4" ry="58.5"/>
<ellipse cx="467.6" cy="803.7" rx="91.6" ry="85.2"/>
<ellipse cx="1105.7" cy="1210.4" rx="80.5" ry="68"/>
</g>
<!--LABELS-->
<g id="labels">
<text x="84" y="64.5">2</text>
<text x="82.5" y="158.5">3</text>
<text x="82.5" y="253.5">4</text>
<text x="-10" y="410.5">1</text>
<text x="82.5" y="503.5">5</text>
<text x="82.5" y="643.5">6</text>
<text x="82.5" y="740.5">7</text>
<text x="82.5" y="1022.5">8</text>
<text x="82.5" y="1116.5">9</text>
<text x="401" y="943.5">10</text>
<text x="404" y="1025.5">11</text>
<text x="697" y="1415.5">14</text>
<text x="727.5" y="1492.5">9</text>
<text x="697" y="1570.5">10</text>
<text x="1138" y="109.5">20</text>
<text x="1134" y="207.5">13</text>
<text x="1140" y="295.5">21</text>
<text x="1121" y="488.5">16</text>
<text x="1129" y="572.5">22</text>
<text x="1063" y="981.5">23</text>
<text x="1062" y="1052.5">15</text>
<text x="1860.5" y="62.5">9</text>
<text x="1862" y="157.5">17</text>
<text x="1860" y="250.5">18</text>
<text x="1860.5" y="391.5">6</text>
<text x="1978" y="392.5">19</text>
<text x="1861.5" y="485.5">5</text>
<text x="1862.5" y="580.5">7</text>
<text x="1860.5" y="675.5">3</text>
<text x="1861.5" y="770.5">2</text>
<text x="1979" y="863.5">17</text>
<text x="1980.5" y="1147.5">9</text>
<text x="1972" y="1242.5">10</text>
<text x="1975" y="1355.5">16</text>
<text x="1355" y="1497.5">12</text>
</g>
</svg>
</body></html>
